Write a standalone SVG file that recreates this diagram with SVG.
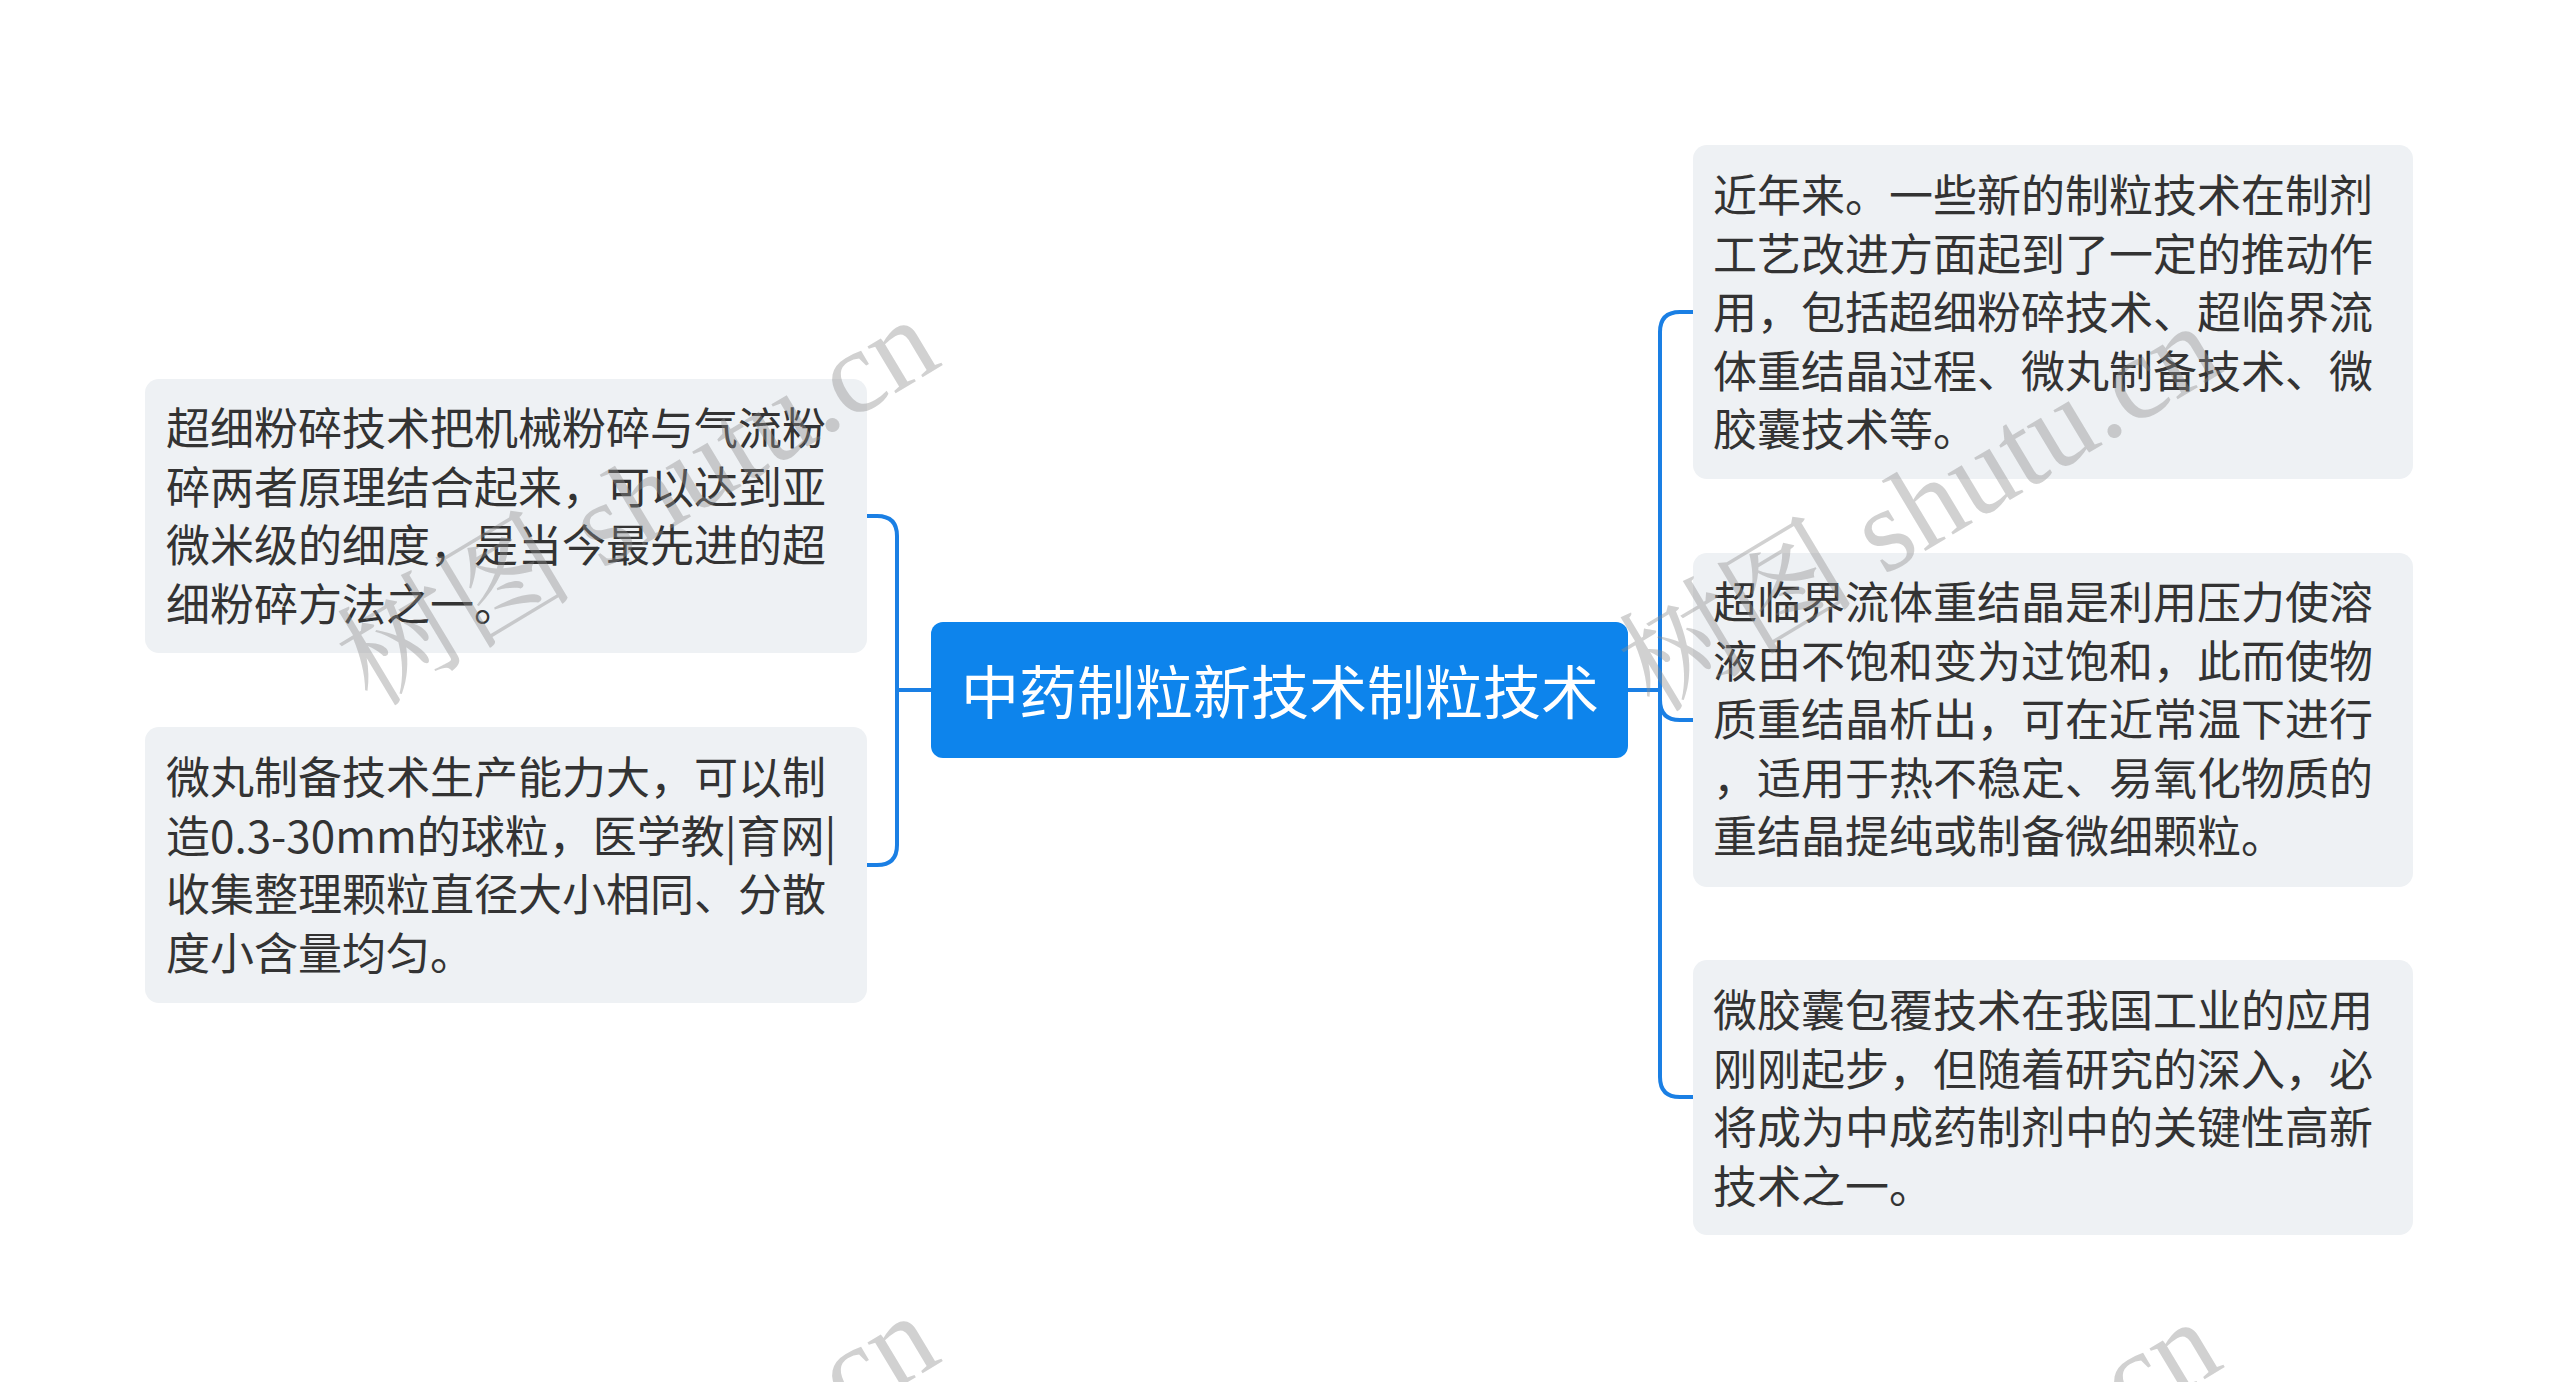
<svg xmlns="http://www.w3.org/2000/svg" width="2560" height="1382" viewBox="0 0 2560 1382">
<style>
.node rect{fill:#eef1f4}
.node text{font-family:"Noto Sans CJK SC","Noto Sans",sans-serif;font-size:44px;fill:#333333}
.root rect{fill:#0d84ec}
.root text{font-family:"Noto Sans CJK SC","Noto Sans",sans-serif;font-size:58px;fill:#ffffff;text-anchor:middle}
.conn path{fill:none;stroke:#1a7fe4;stroke-width:4;stroke-linecap:round}
.wm{font-family:"Liberation Serif","Noto Serif CJK SC","Noto Sans CJK SC",serif;font-size:119px;fill:#8c8c8c;fill-opacity:0.4}
</style>
<rect width="2560" height="1382" fill="#ffffff"/>
<g id="connectors" class="conn">
<path d="M931,690 H897"/>
<path d="M867,516 H877 Q897,516 897,536 V845 Q897,865 877,865 H867"/>
<path d="M1628,690 H1660"/>
<path d="M1693,312 H1680 Q1660,312 1660,332 V1077 Q1660,1097 1680,1097 H1693"/>
<path d="M1660,700 Q1660,720 1680,720 H1693"/>
</g>
<g id="root" class="root">
<rect x="931" y="622" width="697" height="136" rx="12"/>
<text x="1280" y="714">中药制粒新技术制粒技术</text>
</g>
<g id="left1" class="node">
<rect x="145" y="379" width="722" height="274" rx="14"/>
<text x="166" y="445">超细粉碎技术把机械粉碎与气流粉</text>
<text x="166" y="503.5">碎两者原理结合起来，可以达到亚</text>
<text x="166" y="562">微米级的细度，是当今最先进的超</text>
<text x="166" y="620.5">细粉碎方法之一。</text>
</g>
<g id="left2" class="node">
<rect x="145" y="727" width="722" height="276" rx="14"/>
<text x="166" y="794">微丸制备技术生产能力大，可以制</text>
<text x="166" y="852.5">造0.3-30mm的球粒，医学教|育网|</text>
<text x="166" y="911">收集整理颗粒直径大小相同、分散</text>
<text x="166" y="969.5">度小含量均匀。</text>
</g>
<g id="right1" class="node">
<rect x="1693" y="145" width="720" height="334" rx="14"/>
<text x="1713" y="212">近年来。一些新的制粒技术在制剂</text>
<text x="1713" y="270.5">工艺改进方面起到了一定的推动作</text>
<text x="1713" y="329">用，包括超细粉碎技术、超临界流</text>
<text x="1713" y="387.5">体重结晶过程、微丸制备技术、微</text>
<text x="1713" y="446">胶囊技术等。</text>
</g>
<g id="right2" class="node">
<rect x="1693" y="553" width="720" height="334" rx="14"/>
<text x="1713" y="619">超临界流体重结晶是利用压力使溶</text>
<text x="1713" y="677.5">液由不饱和变为过饱和，此而使物</text>
<text x="1713" y="736">质重结晶析出，可在近常温下进行</text>
<text x="1713" y="794.5">，适用于热不稳定、易氧化物质的</text>
<text x="1713" y="853">重结晶提纯或制备微细颗粒。</text>
</g>
<g id="right3" class="node">
<rect x="1693" y="960" width="720" height="275" rx="14"/>
<text x="1713" y="1027">微胶囊包覆技术在我国工业的应用</text>
<text x="1713" y="1085.5">刚刚起步，但随着研究的深入，必</text>
<text x="1713" y="1144">将成为中成药制剂中的关键性高新</text>
<text x="1713" y="1202.5">技术之一。</text>
</g>
<g id="watermarks">
<text class="wm" transform="translate(372,708) rotate(-31)">树图 shutu.cn</text>
<text class="wm" transform="translate(1654,714) rotate(-31)">树图 shutu.cn</text>
<text class="wm" transform="translate(372,1704) rotate(-31)">树图 shutu.cn</text>
<text class="wm" transform="translate(1654,1710) rotate(-31)">树图 shutu.cn</text>
</g>
</svg>
